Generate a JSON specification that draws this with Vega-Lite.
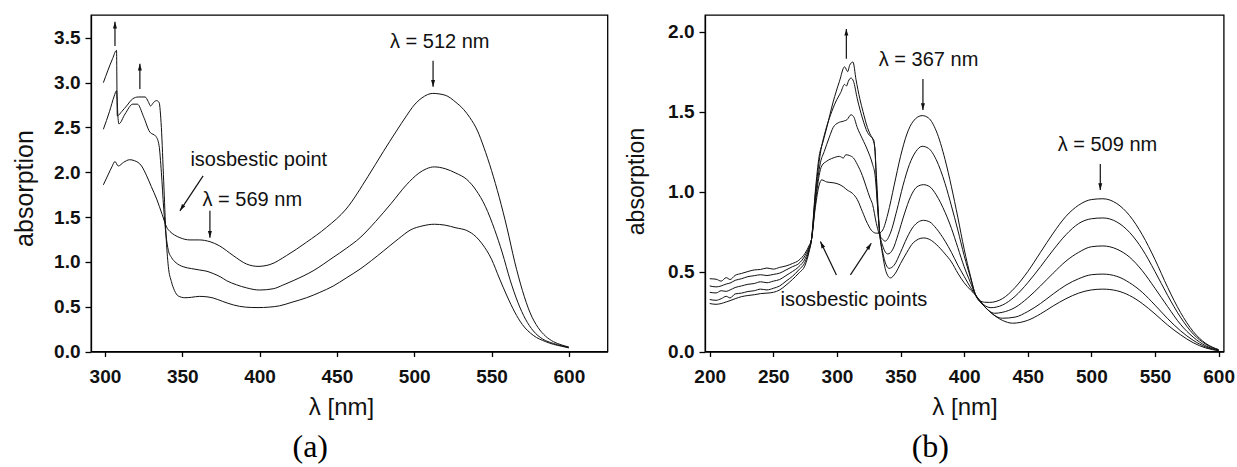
{
"$schema": "https://vega.github.io/schema/vega-lite/v6.json",
"background": "white",
"padding": {"left": 11, "top": 14, "right": 5, "bottom": 2},
"bounds": "flush",
"spacing": 97,
"config": {
  "font": "Liberation Sans",
  "view": {"stroke": "black", "strokeWidth": 1.3},
  "axis": {"grid": false, "domainColor": "black", "domainWidth": 1.3, "tickColor": "black", "tickWidth": 1.3,
    "labelFont": "Liberation Sans", "labelFontSize": 19, "labelFontWeight": "bold", "labelColor": "#111",
    "titleFont": "Liberation Sans", "titleFontWeight": "normal", "titleColor": "#111"},
  "axisX": {"tickSize": 5, "labelPadding": 11, "titleAlign": "center", "titleBaseline": "alphabetic", "titleFontSize": 24},
  "axisY": {"tickSize": 6, "labelPadding": 5, "titleAngle": -90, "titleAlign": "center", "titleBaseline": "alphabetic"},
  "title": {"font": "Liberation Serif", "fontSize": 32, "fontWeight": "normal", "color": "black"}
},
"datasets": {
  "a_curves": [
    {"s":"1","wl":299,"A":1.86},{"s":"1","wl":302,"A":1.97},{"s":"1","wl":304.5,"A":2.06},{"s":"1","wl":306.5,"A":2.12},{"s":"1","wl":308.6,"A":2.07},{"s":"1","wl":312,"A":2.11},{"s":"1","wl":316,"A":2.14},{"s":"1","wl":319,"A":2.13},{"s":"1","wl":323.7,"A":2.07},{"s":"1","wl":327,"A":1.96},{"s":"1","wl":330,"A":1.84},{"s":"1","wl":333.5,"A":1.70},{"s":"1","wl":337,"A":1.53},{"s":"1","wl":340,"A":1.385},{"s":"1","wl":342,"A":1.34},{"s":"1","wl":345,"A":1.30},{"s":"1","wl":348.5,"A":1.27},{"s":"1","wl":355,"A":1.245},{"s":"1","wl":361,"A":1.245},{"s":"1","wl":368,"A":1.225},{"s":"1","wl":374,"A":1.18},{"s":"1","wl":383,"A":1.07},{"s":"1","wl":391.6,"A":0.976},{"s":"1","wl":399,"A":0.95},{"s":"1","wl":406.7,"A":0.97},{"s":"1","wl":417.4,"A":1.07},{"s":"1","wl":430.4,"A":1.22},{"s":"1","wl":443.3,"A":1.385},{"s":"1","wl":456,"A":1.59},{"s":"1","wl":470,"A":1.95},{"s":"1","wl":480,"A":2.23},{"s":"1","wl":488.5,"A":2.46},{"s":"1","wl":495,"A":2.63},{"s":"1","wl":500,"A":2.75},{"s":"1","wl":505,"A":2.83},{"s":"1","wl":512,"A":2.88},{"s":"1","wl":520,"A":2.86},{"s":"1","wl":527,"A":2.78},{"s":"1","wl":532,"A":2.70},{"s":"1","wl":536,"A":2.61},{"s":"1","wl":541,"A":2.46},{"s":"1","wl":545,"A":2.28},{"s":"1","wl":550,"A":2.02},{"s":"1","wl":555,"A":1.72},{"s":"1","wl":560,"A":1.38},{"s":"1","wl":565,"A":1.0},{"s":"1","wl":570,"A":0.68},{"s":"1","wl":575,"A":0.43},{"s":"1","wl":580,"A":0.27},{"s":"1","wl":585,"A":0.17},{"s":"1","wl":590,"A":0.11},{"s":"1","wl":595,"A":0.075},{"s":"1","wl":600,"A":0.05},
    {"s":"2","wl":299,"A":2.48},{"s":"2","wl":303,"A":2.68},{"s":"2","wl":306,"A":2.85},{"s":"2","wl":307.5,"A":2.91},{"s":"2","wl":308.5,"A":2.6},{"s":"2","wl":309,"A":2.54},{"s":"2","wl":313,"A":2.65},{"s":"2","wl":318,"A":2.76},{"s":"2","wl":321,"A":2.76},{"s":"2","wl":325,"A":2.62},{"s":"2","wl":329,"A":2.45},{"s":"2","wl":333,"A":2.40},{"s":"2","wl":335,"A":2.3},{"s":"2","wl":336.5,"A":2.0},{"s":"2","wl":338,"A":1.6},{"s":"2","wl":339.5,"A":1.3},{"s":"2","wl":341,"A":1.13},{"s":"2","wl":343,"A":1.05},{"s":"2","wl":346,"A":0.99},{"s":"2","wl":350.6,"A":0.946},{"s":"2","wl":356,"A":0.925},{"s":"2","wl":361,"A":0.91},{"s":"2","wl":366,"A":0.895},{"s":"2","wl":370,"A":0.87},{"s":"2","wl":375,"A":0.83},{"s":"2","wl":378.7,"A":0.79},{"s":"2","wl":385,"A":0.745},{"s":"2","wl":391.6,"A":0.71},{"s":"2","wl":400,"A":0.686},{"s":"2","wl":408.8,"A":0.70},{"s":"2","wl":415,"A":0.74},{"s":"2","wl":421.7,"A":0.79},{"s":"2","wl":434.6,"A":0.90},{"s":"2","wl":447.6,"A":1.05},{"s":"2","wl":456,"A":1.15},{"s":"2","wl":465,"A":1.27},{"s":"2","wl":475,"A":1.45},{"s":"2","wl":485,"A":1.65},{"s":"2","wl":495,"A":1.86},{"s":"2","wl":503,"A":1.99},{"s":"2","wl":508,"A":2.04},{"s":"2","wl":513,"A":2.06},{"s":"2","wl":520,"A":2.04},{"s":"2","wl":527,"A":1.99},{"s":"2","wl":534,"A":1.92},{"s":"2","wl":540,"A":1.80},{"s":"2","wl":546,"A":1.62},{"s":"2","wl":552,"A":1.36},{"s":"2","wl":557,"A":1.10},{"s":"2","wl":562,"A":0.80},{"s":"2","wl":567,"A":0.55},{"s":"2","wl":572,"A":0.36},{"s":"2","wl":577,"A":0.23},{"s":"2","wl":583,"A":0.14},{"s":"2","wl":590,"A":0.09},{"s":"2","wl":595,"A":0.065},{"s":"2","wl":600,"A":0.045},
    {"s":"3","wl":299,"A":3.0},{"s":"3","wl":302,"A":3.14},{"s":"3","wl":305,"A":3.27},{"s":"3","wl":307.5,"A":3.36},{"s":"3","wl":308,"A":2.63},{"s":"3","wl":311,"A":2.68},{"s":"3","wl":314,"A":2.74},{"s":"3","wl":318,"A":2.82},{"s":"3","wl":321.5,"A":2.84},{"s":"3","wl":326,"A":2.84},{"s":"3","wl":328,"A":2.79},{"s":"3","wl":329.5,"A":2.74},{"s":"3","wl":331.5,"A":2.78},{"s":"3","wl":333.4,"A":2.80},{"s":"3","wl":335,"A":2.78},{"s":"3","wl":336.5,"A":2.5},{"s":"3","wl":338,"A":1.9},{"s":"3","wl":339.5,"A":1.3},{"s":"3","wl":341,"A":0.95},{"s":"3","wl":343,"A":0.78},{"s":"3","wl":345,"A":0.68},{"s":"3","wl":347.4,"A":0.62},{"s":"3","wl":351.7,"A":0.60},{"s":"3","wl":356,"A":0.605},{"s":"3","wl":361,"A":0.615},{"s":"3","wl":366,"A":0.61},{"s":"3","wl":370,"A":0.597},{"s":"3","wl":376,"A":0.56},{"s":"3","wl":383,"A":0.52},{"s":"3","wl":391,"A":0.495},{"s":"3","wl":399,"A":0.49},{"s":"3","wl":406,"A":0.495},{"s":"3","wl":413,"A":0.51},{"s":"3","wl":421,"A":0.55},{"s":"3","wl":430.4,"A":0.60},{"s":"3","wl":439,"A":0.66},{"s":"3","wl":447.6,"A":0.73},{"s":"3","wl":456,"A":0.82},{"s":"3","wl":465,"A":0.92},{"s":"3","wl":480,"A":1.12},{"s":"3","wl":490,"A":1.26},{"s":"3","wl":498,"A":1.36},{"s":"3","wl":505,"A":1.40},{"s":"3","wl":513,"A":1.42},{"s":"3","wl":520,"A":1.41},{"s":"3","wl":527,"A":1.38},{"s":"3","wl":534,"A":1.35},{"s":"3","wl":540,"A":1.28},{"s":"3","wl":544,"A":1.20},{"s":"3","wl":550,"A":1.03},{"s":"3","wl":555,"A":0.82},{"s":"3","wl":560,"A":0.62},{"s":"3","wl":565,"A":0.44},{"s":"3","wl":570,"A":0.30},{"s":"3","wl":577,"A":0.18},{"s":"3","wl":585,"A":0.11},{"s":"3","wl":590,"A":0.08},{"s":"3","wl":595,"A":0.06},{"s":"3","wl":600,"A":0.04}
  ],
  "a_arrows": [
    {"wl":306.5,"A":3.41,"wl2":306.5,"A2":3.68,"dir":"up"},
    {"wl":322.6,"A":2.93,"wl2":322.6,"A2":3.21,"dir":"up"},
    {"wl":512.2,"A":3.245,"wl2":512.2,"A2":2.955,"dir":"down"},
    {"wl":363.5,"A":1.96,"wl2":348.5,"A2":1.57,"dir":"downleft"},
    {"wl":367.9,"A":1.57,"wl2":367.9,"A2":1.27,"dir":"down"}
  ],
  "a_labels": [
    {"wl":516.5,"A":3.385,"label":"λ = 512 nm"},
    {"wl":399.5,"A":2.066,"label":"isosbestic point"},
    {"wl":395.3,"A":1.627,"label":"λ = 569 nm"}
  ],
  "b_curves": [
    {"s":"1","wl":200,"A":0.455},{"s":"1","wl":205,"A":0.452},{"s":"1","wl":209,"A":0.44},{"s":"1","wl":213,"A":0.462},{"s":"1","wl":216,"A":0.45},{"s":"1","wl":220,"A":0.476},{"s":"1","wl":225,"A":0.488},{"s":"1","wl":230,"A":0.50},{"s":"1","wl":235,"A":0.51},{"s":"1","wl":240,"A":0.513},{"s":"1","wl":245,"A":0.522},{"s":"1","wl":250,"A":0.515},{"s":"1","wl":255,"A":0.526},{"s":"1","wl":260,"A":0.535},{"s":"1","wl":265,"A":0.55},{"s":"1","wl":270,"A":0.57},{"s":"1","wl":275,"A":0.615},{"s":"1","wl":278,"A":0.66},{"s":"1","wl":280,"A":0.70},{"s":"1","wl":283,"A":0.90},{"s":"1","wl":286,"A":1.04},{"s":"1","wl":288,"A":1.073},{"s":"1","wl":292,"A":1.06},{"s":"1","wl":297,"A":1.055},{"s":"1","wl":300,"A":1.05},{"s":"1","wl":305,"A":1.03},{"s":"1","wl":308,"A":1.01},{"s":"1","wl":312,"A":0.99},{"s":"1","wl":316,"A":0.95},{"s":"1","wl":320,"A":0.875},{"s":"1","wl":324,"A":0.80},{"s":"1","wl":328,"A":0.75},{"s":"1","wl":331,"A":0.74},{"s":"1","wl":333,"A":0.74},{"s":"1","wl":336,"A":0.76},{"s":"1","wl":340,"A":0.86},{"s":"1","wl":345,"A":1.04},{"s":"1","wl":350,"A":1.22},{"s":"1","wl":355,"A":1.36},{"s":"1","wl":360,"A":1.44},{"s":"1","wl":367,"A":1.475},{"s":"1","wl":372,"A":1.46},{"s":"1","wl":378,"A":1.38},{"s":"1","wl":385,"A":1.20},{"s":"1","wl":390,"A":1.03},{"s":"1","wl":395,"A":0.84},{"s":"1","wl":400,"A":0.64},{"s":"1","wl":405,"A":0.47},{"s":"1","wl":409,"A":0.353},{"s":"1","wl":412,"A":0.32},{"s":"1","wl":416,"A":0.308},{"s":"1","wl":420,"A":0.307},{"s":"1","wl":430,"A":0.33},{"s":"1","wl":440,"A":0.40},{"s":"1","wl":450,"A":0.50},{"s":"1","wl":460,"A":0.62},{"s":"1","wl":470,"A":0.74},{"s":"1","wl":480,"A":0.845},{"s":"1","wl":490,"A":0.915},{"s":"1","wl":500,"A":0.95},{"s":"1","wl":509,"A":0.955},{"s":"1","wl":520,"A":0.925},{"s":"1","wl":530,"A":0.85},{"s":"1","wl":540,"A":0.73},{"s":"1","wl":550,"A":0.575},{"s":"1","wl":560,"A":0.40},{"s":"1","wl":570,"A":0.245},{"s":"1","wl":580,"A":0.125},{"s":"1","wl":590,"A":0.05},{"s":"1","wl":600,"A":0.012},
    {"s":"2","wl":200,"A":0.41},{"s":"2","wl":205,"A":0.404},{"s":"2","wl":209,"A":0.41},{"s":"2","wl":213,"A":0.422},{"s":"2","wl":216,"A":0.428},{"s":"2","wl":220,"A":0.445},{"s":"2","wl":225,"A":0.455},{"s":"2","wl":230,"A":0.468},{"s":"2","wl":235,"A":0.474},{"s":"2","wl":240,"A":0.48},{"s":"2","wl":245,"A":0.475},{"s":"2","wl":250,"A":0.482},{"s":"2","wl":255,"A":0.49},{"s":"2","wl":260,"A":0.51},{"s":"2","wl":265,"A":0.53},{"s":"2","wl":270,"A":0.55},{"s":"2","wl":275,"A":0.60},{"s":"2","wl":278,"A":0.65},{"s":"2","wl":280,"A":0.70},{"s":"2","wl":283,"A":0.92},{"s":"2","wl":286,"A":1.10},{"s":"2","wl":288,"A":1.16},{"s":"2","wl":292,"A":1.19},{"s":"2","wl":297,"A":1.21},{"s":"2","wl":302,"A":1.22},{"s":"2","wl":305,"A":1.21},{"s":"2","wl":307,"A":1.23},{"s":"2","wl":310,"A":1.225},{"s":"2","wl":313,"A":1.21},{"s":"2","wl":316,"A":1.17},{"s":"2","wl":320,"A":1.10},{"s":"2","wl":323,"A":1.03},{"s":"2","wl":326,"A":0.96},{"s":"2","wl":328,"A":0.92},{"s":"2","wl":331,"A":0.80},{"s":"2","wl":333,"A":0.74},{"s":"2","wl":336,"A":0.70},{"s":"2","wl":338,"A":0.69},{"s":"2","wl":342,"A":0.74},{"s":"2","wl":347,"A":0.88},{"s":"2","wl":352,"A":1.04},{"s":"2","wl":357,"A":1.17},{"s":"2","wl":362,"A":1.25},{"s":"2","wl":367,"A":1.283},{"s":"2","wl":372,"A":1.27},{"s":"2","wl":378,"A":1.20},{"s":"2","wl":385,"A":1.05},{"s":"2","wl":390,"A":0.91},{"s":"2","wl":395,"A":0.76},{"s":"2","wl":400,"A":0.60},{"s":"2","wl":405,"A":0.46},{"s":"2","wl":409,"A":0.353},{"s":"2","wl":415,"A":0.295},{"s":"2","wl":421,"A":0.274},{"s":"2","wl":430,"A":0.29},{"s":"2","wl":440,"A":0.345},{"s":"2","wl":450,"A":0.43},{"s":"2","wl":460,"A":0.53},{"s":"2","wl":470,"A":0.635},{"s":"2","wl":480,"A":0.73},{"s":"2","wl":490,"A":0.80},{"s":"2","wl":500,"A":0.83},{"s":"2","wl":509,"A":0.835},{"s":"2","wl":520,"A":0.81},{"s":"2","wl":530,"A":0.745},{"s":"2","wl":540,"A":0.64},{"s":"2","wl":550,"A":0.50},{"s":"2","wl":560,"A":0.35},{"s":"2","wl":570,"A":0.215},{"s":"2","wl":580,"A":0.11},{"s":"2","wl":590,"A":0.045},{"s":"2","wl":600,"A":0.01},
    {"s":"3","wl":200,"A":0.37},{"s":"3","wl":205,"A":0.366},{"s":"3","wl":209,"A":0.38},{"s":"3","wl":213,"A":0.376},{"s":"3","wl":216,"A":0.385},{"s":"3","wl":220,"A":0.40},{"s":"3","wl":225,"A":0.41},{"s":"3","wl":230,"A":0.42},{"s":"3","wl":235,"A":0.425},{"s":"3","wl":240,"A":0.436},{"s":"3","wl":245,"A":0.43},{"s":"3","wl":250,"A":0.44},{"s":"3","wl":255,"A":0.45},{"s":"3","wl":260,"A":0.475},{"s":"3","wl":265,"A":0.50},{"s":"3","wl":270,"A":0.53},{"s":"3","wl":275,"A":0.58},{"s":"3","wl":278,"A":0.64},{"s":"3","wl":280,"A":0.70},{"s":"3","wl":283,"A":0.95},{"s":"3","wl":287,"A":1.18},{"s":"3","wl":290,"A":1.25},{"s":"3","wl":294,"A":1.34},{"s":"3","wl":297,"A":1.40},{"s":"3","wl":301,"A":1.43},{"s":"3","wl":305,"A":1.44},{"s":"3","wl":308,"A":1.45},{"s":"3","wl":311,"A":1.48},{"s":"3","wl":313,"A":1.47},{"s":"3","wl":316,"A":1.40},{"s":"3","wl":320,"A":1.33},{"s":"3","wl":324,"A":1.26},{"s":"3","wl":328,"A":1.17},{"s":"3","wl":330,"A":1.10},{"s":"3","wl":332,"A":0.90},{"s":"3","wl":333.5,"A":0.75},{"s":"3","wl":336,"A":0.66},{"s":"3","wl":340,"A":0.61},{"s":"3","wl":344,"A":0.64},{"s":"3","wl":348,"A":0.73},{"s":"3","wl":353,"A":0.86},{"s":"3","wl":358,"A":0.97},{"s":"3","wl":363,"A":1.03},{"s":"3","wl":368,"A":1.043},{"s":"3","wl":373,"A":1.03},{"s":"3","wl":378,"A":0.98},{"s":"3","wl":385,"A":0.87},{"s":"3","wl":390,"A":0.77},{"s":"3","wl":395,"A":0.65},{"s":"3","wl":400,"A":0.53},{"s":"3","wl":405,"A":0.43},{"s":"3","wl":409,"A":0.353},{"s":"3","wl":415,"A":0.29},{"s":"3","wl":424,"A":0.239},{"s":"3","wl":430,"A":0.245},{"s":"3","wl":440,"A":0.275},{"s":"3","wl":450,"A":0.335},{"s":"3","wl":460,"A":0.41},{"s":"3","wl":470,"A":0.49},{"s":"3","wl":480,"A":0.565},{"s":"3","wl":490,"A":0.62},{"s":"3","wl":500,"A":0.655},{"s":"3","wl":509,"A":0.66},{"s":"3","wl":520,"A":0.64},{"s":"3","wl":530,"A":0.59},{"s":"3","wl":540,"A":0.505},{"s":"3","wl":550,"A":0.395},{"s":"3","wl":560,"A":0.28},{"s":"3","wl":570,"A":0.17},{"s":"3","wl":580,"A":0.09},{"s":"3","wl":590,"A":0.035},{"s":"3","wl":600,"A":0.008},
    {"s":"4","wl":200,"A":0.325},{"s":"4","wl":205,"A":0.32},{"s":"4","wl":209,"A":0.33},{"s":"4","wl":213,"A":0.345},{"s":"4","wl":216,"A":0.335},{"s":"4","wl":220,"A":0.36},{"s":"4","wl":225,"A":0.365},{"s":"4","wl":230,"A":0.375},{"s":"4","wl":235,"A":0.38},{"s":"4","wl":240,"A":0.39},{"s":"4","wl":245,"A":0.385},{"s":"4","wl":250,"A":0.395},{"s":"4","wl":255,"A":0.41},{"s":"4","wl":260,"A":0.44},{"s":"4","wl":265,"A":0.47},{"s":"4","wl":270,"A":0.51},{"s":"4","wl":275,"A":0.56},{"s":"4","wl":278,"A":0.63},{"s":"4","wl":280,"A":0.70},{"s":"4","wl":283,"A":0.98},{"s":"4","wl":287,"A":1.24},{"s":"4","wl":291,"A":1.38},{"s":"4","wl":295,"A":1.48},{"s":"4","wl":299,"A":1.56},{"s":"4","wl":303,"A":1.62},{"s":"4","wl":306,"A":1.67},{"s":"4","wl":307.5,"A":1.66},{"s":"4","wl":309,"A":1.69},{"s":"4","wl":311,"A":1.71},{"s":"4","wl":313,"A":1.69},{"s":"4","wl":316,"A":1.58},{"s":"4","wl":320,"A":1.46},{"s":"4","wl":324,"A":1.37},{"s":"4","wl":327,"A":1.34},{"s":"4","wl":329,"A":1.32},{"s":"4","wl":331,"A":1.10},{"s":"4","wl":333.5,"A":0.75},{"s":"4","wl":336,"A":0.62},{"s":"4","wl":341,"A":0.52},{"s":"4","wl":345,"A":0.54},{"s":"4","wl":350,"A":0.62},{"s":"4","wl":355,"A":0.71},{"s":"4","wl":360,"A":0.78},{"s":"4","wl":368,"A":0.82},{"s":"4","wl":373,"A":0.81},{"s":"4","wl":378,"A":0.77},{"s":"4","wl":385,"A":0.69},{"s":"4","wl":390,"A":0.62},{"s":"4","wl":395,"A":0.54},{"s":"4","wl":400,"A":0.47},{"s":"4","wl":405,"A":0.40},{"s":"4","wl":409,"A":0.353},{"s":"4","wl":415,"A":0.29},{"s":"4","wl":420,"A":0.25},{"s":"4","wl":430,"A":0.208},{"s":"4","wl":440,"A":0.215},{"s":"4","wl":450,"A":0.25},{"s":"4","wl":460,"A":0.30},{"s":"4","wl":470,"A":0.36},{"s":"4","wl":480,"A":0.415},{"s":"4","wl":490,"A":0.455},{"s":"4","wl":500,"A":0.48},{"s":"4","wl":509,"A":0.484},{"s":"4","wl":520,"A":0.47},{"s":"4","wl":530,"A":0.43},{"s":"4","wl":540,"A":0.37},{"s":"4","wl":550,"A":0.29},{"s":"4","wl":560,"A":0.205},{"s":"4","wl":570,"A":0.13},{"s":"4","wl":580,"A":0.07},{"s":"4","wl":590,"A":0.028},{"s":"4","wl":600,"A":0.006},
    {"s":"5","wl":200,"A":0.30},{"s":"5","wl":205,"A":0.295},{"s":"5","wl":209,"A":0.30},{"s":"5","wl":213,"A":0.31},{"s":"5","wl":216,"A":0.318},{"s":"5","wl":220,"A":0.33},{"s":"5","wl":225,"A":0.343},{"s":"5","wl":230,"A":0.35},{"s":"5","wl":235,"A":0.355},{"s":"5","wl":240,"A":0.362},{"s":"5","wl":245,"A":0.365},{"s":"5","wl":250,"A":0.37},{"s":"5","wl":255,"A":0.385},{"s":"5","wl":260,"A":0.415},{"s":"5","wl":265,"A":0.45},{"s":"5","wl":270,"A":0.49},{"s":"5","wl":275,"A":0.54},{"s":"5","wl":278,"A":0.62},{"s":"5","wl":280,"A":0.70},{"s":"5","wl":283,"A":1.00},{"s":"5","wl":286,"A":1.22},{"s":"5","wl":289,"A":1.31},{"s":"5","wl":292,"A":1.40},{"s":"5","wl":297,"A":1.56},{"s":"5","wl":302,"A":1.69},{"s":"5","wl":306,"A":1.78},{"s":"5","wl":308.5,"A":1.75},{"s":"5","wl":310,"A":1.79},{"s":"5","wl":312.6,"A":1.81},{"s":"5","wl":315,"A":1.70},{"s":"5","wl":318,"A":1.58},{"s":"5","wl":320.5,"A":1.50},{"s":"5","wl":324,"A":1.40},{"s":"5","wl":326,"A":1.36},{"s":"5","wl":328.5,"A":1.32},{"s":"5","wl":330,"A":1.26},{"s":"5","wl":331,"A":1.06},{"s":"5","wl":333.5,"A":0.75},{"s":"5","wl":336,"A":0.60},{"s":"5","wl":339,"A":0.49},{"s":"5","wl":342,"A":0.46},{"s":"5","wl":346,"A":0.49},{"s":"5","wl":350,"A":0.55},{"s":"5","wl":355,"A":0.62},{"s":"5","wl":360,"A":0.68},{"s":"5","wl":368,"A":0.71},{"s":"5","wl":373,"A":0.70},{"s":"5","wl":378,"A":0.67},{"s":"5","wl":385,"A":0.61},{"s":"5","wl":390,"A":0.56},{"s":"5","wl":395,"A":0.49},{"s":"5","wl":400,"A":0.43},{"s":"5","wl":405,"A":0.385},{"s":"5","wl":409,"A":0.353},{"s":"5","wl":415,"A":0.29},{"s":"5","wl":420,"A":0.25},{"s":"5","wl":430,"A":0.195},{"s":"5","wl":438,"A":0.177},{"s":"5","wl":450,"A":0.195},{"s":"5","wl":460,"A":0.235},{"s":"5","wl":470,"A":0.285},{"s":"5","wl":480,"A":0.33},{"s":"5","wl":490,"A":0.365},{"s":"5","wl":500,"A":0.385},{"s":"5","wl":509,"A":0.39},{"s":"5","wl":520,"A":0.38},{"s":"5","wl":530,"A":0.35},{"s":"5","wl":540,"A":0.30},{"s":"5","wl":550,"A":0.235},{"s":"5","wl":560,"A":0.165},{"s":"5","wl":570,"A":0.105},{"s":"5","wl":580,"A":0.055},{"s":"5","wl":590,"A":0.022},{"s":"5","wl":600,"A":0.005}
  ],
  "b_arrows": [
    {"wl":307.4,"A":1.83,"wl2":307.4,"A2":2.017,"dir":"up"},
    {"wl":367.6,"A":1.704,"wl2":367.6,"A2":1.51,"dir":"down"},
    {"wl":507,"A":1.173,"wl2":507,"A2":1.01,"dir":"down"},
    {"wl":299.6,"A":0.479,"wl2":287,"A2":0.6875,"dir":"upleft"},
    {"wl":310.6,"A":0.479,"wl2":327,"A2":0.677,"dir":"upright"}
  ],
  "b_labels": [
    {"wl":372,"A":1.786,"label":"λ = 367 nm"},
    {"wl":512.6,"A":1.254,"label":"λ = 509 nm"},
    {"wl":313.3,"A":0.287,"label":"isosbestic points"}
  ]
},
"hconcat": [
  {
    "width": 516.5, "height": 336.5,
    "title": {"text": "(a)", "orient": "bottom", "anchor": "middle", "dx": -39, "offset": 12},
    "layer": [
      {
        "data": {"name": "a_curves"},
        "mark": {"type": "line", "color": "#111", "strokeWidth": 1, "interpolate": "monotone"},
        "encoding": {
          "x": {"field": "wl", "type": "quantitative", "scale": {"domain": [291, 625], "nice": false, "zero": false},
                "axis": {"title": "λ [nm]", "values": [300, 350, 400, 450, 500, 550, 600], "titleX": 250, "titleY": 63}},
          "y": {"field": "A", "type": "quantitative", "scale": {"domain": [0, 3.755], "nice": false},
                "axis": {"title": "absorption", "values": [0, 0.5, 1, 1.5, 2, 2.5, 3, 3.5], "format": ".1f", "titleFontSize": 25, "titleX": -59, "titleY": 173}},
          "detail": {"field": "s"}
        }
      },
      {
        "data": {"name": "a_arrows"},
        "mark": {"type": "rule", "color": "#111", "strokeWidth": 1.2},
        "encoding": {"x": {"field": "wl", "type": "quantitative"}, "y": {"field": "A", "type": "quantitative"}, "x2": {"field": "wl2"}, "y2": {"field": "A2"}}
      },
      {
        "data": {"name": "a_arrows"},
        "mark": {"type": "point", "filled": true, "color": "#111", "opacity": 1, "size": 45},
        "encoding": {"x": {"field": "wl2", "type": "quantitative"}, "y": {"field": "A2", "type": "quantitative"},
          "shape": {"field": "dir", "type": "nominal", "legend": null,
            "scale": {"domain": ["up", "down", "downleft", "upleft", "upright"],
                      "range": ["M 0 0 L -0.6 2 L 0.6 2 Z", "M 0 0 L -0.6 -2 L 0.6 -2 Z", "M 0 0 L 0.609 -1.996 L 1.607 -1.332 Z", "M 0 0 L 1.407 1.544 L 0.325 2.064 Z", "M 0 0 L -0.606 1.998 L -1.606 1.334 Z"]}}}
      },
      {
        "data": {"name": "a_labels"},
        "mark": {"type": "text", "font": "Liberation Sans", "fontSize": 20, "color": "#111", "align": "center", "baseline": "alphabetic"},
        "encoding": {"x": {"field": "wl", "type": "quantitative"}, "y": {"field": "A", "type": "quantitative"}, "text": {"field": "label"}}
      }
    ]
  },
  {
    "width": 518.7, "height": 336.5,
    "title": {"text": "(b)", "orient": "bottom", "anchor": "middle", "dx": -34, "offset": 12},
    "layer": [
      {
        "data": {"name": "b_curves"},
        "mark": {"type": "line", "color": "#111", "strokeWidth": 1, "interpolate": "monotone"},
        "encoding": {
          "x": {"field": "wl", "type": "quantitative", "scale": {"domain": [196.3, 604], "nice": false, "zero": false},
                "axis": {"title": "λ [nm]", "values": [200, 250, 300, 350, 400, 450, 500, 550, 600], "titleX": 259.5, "titleY": 63}},
          "y": {"field": "A", "type": "quantitative", "scale": {"domain": [0, 2.104], "nice": false},
                "axis": {"title": "absorption", "values": [0, 0.5, 1, 1.5, 2], "format": ".1f", "titleFontSize": 23, "titleX": -62, "titleY": 166}},
          "detail": {"field": "s"}
        }
      },
      {
        "data": {"name": "b_arrows"},
        "mark": {"type": "rule", "color": "#111", "strokeWidth": 1.2},
        "encoding": {"x": {"field": "wl", "type": "quantitative"}, "y": {"field": "A", "type": "quantitative"}, "x2": {"field": "wl2"}, "y2": {"field": "A2"}}
      },
      {
        "data": {"name": "b_arrows"},
        "mark": {"type": "point", "filled": true, "color": "#111", "opacity": 1, "size": 45},
        "encoding": {"x": {"field": "wl2", "type": "quantitative"}, "y": {"field": "A2", "type": "quantitative"},
          "shape": {"field": "dir", "type": "nominal", "legend": null,
            "scale": {"domain": ["up", "down", "downleft", "upleft", "upright"],
                      "range": ["M 0 0 L -0.6 2 L 0.6 2 Z", "M 0 0 L -0.6 -2 L 0.6 -2 Z", "M 0 0 L 0.609 -1.996 L 1.607 -1.332 Z", "M 0 0 L 1.407 1.544 L 0.325 2.064 Z", "M 0 0 L -0.606 1.998 L -1.606 1.334 Z"]}}}
      },
      {
        "data": {"name": "b_labels"},
        "mark": {"type": "text", "font": "Liberation Sans", "fontSize": 20, "color": "#111", "align": "center", "baseline": "alphabetic"},
        "encoding": {"x": {"field": "wl", "type": "quantitative"}, "y": {"field": "A", "type": "quantitative"}, "text": {"field": "label"}}
      }
    ]
  }
]
}
